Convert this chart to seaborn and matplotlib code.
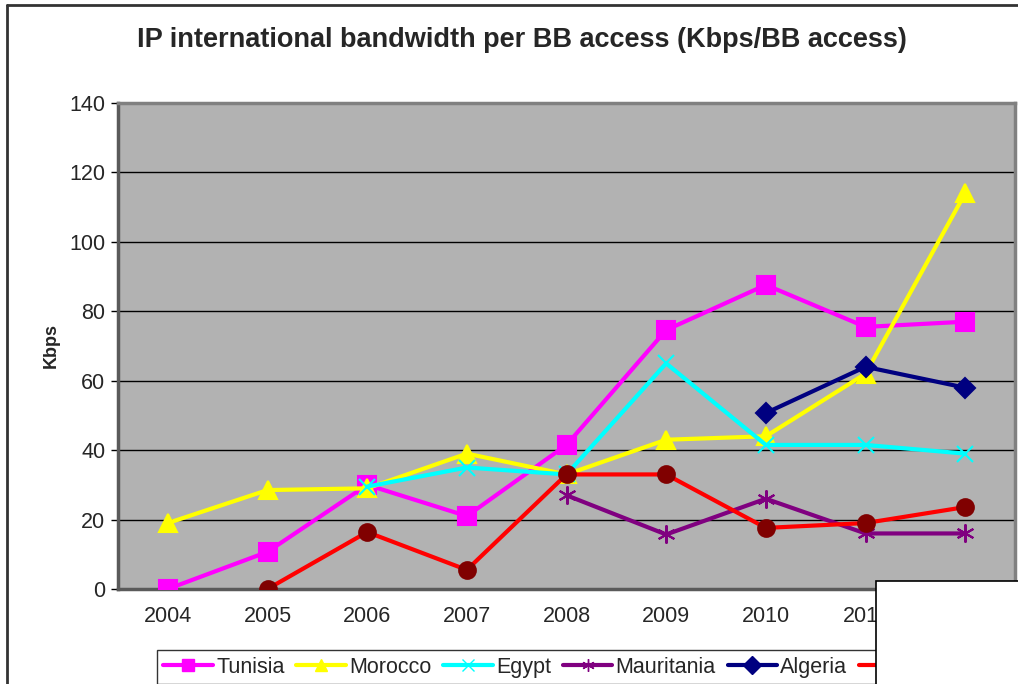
import numpy as np
import pandas as pd
import matplotlib
matplotlib.use("Agg")
import matplotlib.pyplot as plt
import seaborn as sns
from matplotlib.patches import Rectangle
from matplotlib.lines import Line2D

# -------------------------------
# Data
# -------------------------------
years = ["2004", "2005", "2006", "2007", "2008", "2009", "2010", "2011", "2012"]

tunisia = [0, 10.7, 30, 21, 41.5, 74.6, 87.6, 75.5, 77]
morocco = [19, 28.5, 29, 39, 33, 43, 44, 62, 114]
egypt_years = ["2006", "2007", "2008", "2009", "2010", "2011", "2012"]
egypt = [29.5, 35, 33, 65, 41.5, 41.5, 39]
mauritania_years = ["2008", "2009", "2010", "2011", "2012"]
mauritania = [27, 15.7, 26, 16, 16]
algeria_years = ["2010", "2011", "2012"]
algeria = [50.7, 64, 58]
libya_years = ["2005", "2006", "2007", "2008", "2009", "2010", "2011", "2012"]
libya = [0, 16.4, 5.5, 33, 33, 17.6, 19, 23.6]

y_ticks = [0, 20, 40, 60, 80, 100, 120, 140]

# -------------------------------
# Styling
# -------------------------------
sns.set_style("white")
plt.rcParams['font.family'] = ['Liberation Sans', 'DejaVu Sans']

fig = plt.figure(figsize=(10.18, 6.84), dpi=100)
fig.patch.set_facecolor("white")
ax = fig.add_axes([118 / 1018, 95 / 684, (1015 - 118) / 1018, (589 - 103) / 684])
ax.set_facecolor("#b2b2b2")

pos = {y: i for i, y in enumerate(years)}

series = [
    ("Tunisia", years, tunisia, "#ff00ff", "s", "#ff00ff", 13),
    ("Morocco", years, morocco, "#ffff00", "^", "#ffff00", 13),
    ("Egypt", egypt_years, egypt, "#00ffff", "x", "#00ffff", 12),
    ("Mauritania", mauritania_years, mauritania, "#800080", (6, 2, 0), "#800080", 13),
    ("Algeria", algeria_years, algeria, "#000080", "D", "#000080", 10),
    ("Libya", libya_years, libya, "#ff0000", "o", "#800000", 12),
]

for name, yrs, vals, col, mk, mcol, ms in series:
    df = pd.DataFrame({"x": [pos[y] for y in yrs], "y": vals})
    sns.lineplot(data=df, x="x", y="y", ax=ax, color=col, linewidth=3,
                 marker=mk, markersize=ms, markerfacecolor=mcol,
                 markeredgecolor=mcol, markeredgewidth=1.5, label=name,
                 zorder=3)

# axes limits and ticks
ax.set_xlim(-0.5, len(years) - 0.5)
ax.set_ylim(0, 140)
ax.set_yticks(y_ticks)
ax.set_yticklabels([str(v) for v in y_ticks], fontsize=15.5)
ax.set_xticks(np.arange(-0.5, len(years), 1.0))
ax.set_xticklabels([])
ax.set_xticks(np.arange(len(years)), minor=True)
ax.set_xticklabels(years, minor=True, fontsize=15.5)
ax.tick_params(axis="x", which="major", direction="out", length=5, width=1, color="black")
ax.tick_params(axis="x", which="minor", length=0, pad=12)
ax.tick_params(axis="y", direction="out", length=5, width=1, color="black", pad=4, left=True)
ax.set_xlabel("")
ax.set_ylabel("Kbps", fontsize=13, fontweight="bold", labelpad=7)

ax.grid(axis="y", color="black", linewidth=1)
ax.grid(axis="x", visible=False)
ax.set_axisbelow(True)

for side in ["left", "bottom"]:
    ax.spines[side].set_color("#5a5a5a")
    ax.spines[side].set_linewidth(2.5)
for side in ["top", "right"]:
    ax.spines[side].set_color("#808080")
    ax.spines[side].set_linewidth(2.5)

# title
fig.text(0.513, 1 - 40 / 684, "IP international bandwidth per BB access (Kbps/BB access)",
         ha="center", va="center", fontsize=19.5, fontweight="bold")

# legend at bottom
handles, labels = ax.get_legend_handles_labels()
ax.get_legend().remove()
small = []
for h in handles:
    small.append(Line2D([], [], color=h.get_color(), linewidth=3, marker=h.get_marker(),
                        markersize=9, markerfacecolor=h.get_markerfacecolor(),
                        markeredgecolor=h.get_markeredgecolor()))
leg = fig.legend(small, labels, loc="lower left", bbox_to_anchor=(157 / 1018, 0),
                 ncol=6, fontsize=15.5, frameon=True, fancybox=False, handlelength=2.3,
                 handletextpad=0.15, columnspacing=0.55, borderpad=0.3, borderaxespad=0)
leg.get_frame().set_edgecolor("black")
leg.get_frame().set_linewidth(1)
leg.set_zorder(5)

# white box covering the lower right corner
box = Rectangle((876 / 1018, -0.1), 0.5, 0.1 + (684 - 581) / 684, transform=fig.transFigure,
                facecolor="white", edgecolor="black", linewidth=1.2, zorder=10)
fig.patches.append(box)

# outer border lines (left and top)
fig.add_artist(Line2D([7 / 1018, 7 / 1018], [0, 1 - 5 / 684], transform=fig.transFigure,
                      color="#333333", linewidth=2))
fig.add_artist(Line2D([7 / 1018, 1], [1 - 5 / 684, 1 - 5 / 684], transform=fig.transFigure,
                      color="#333333", linewidth=2))

fig.savefig("out.png", dpi=100)
plt.close(fig)
